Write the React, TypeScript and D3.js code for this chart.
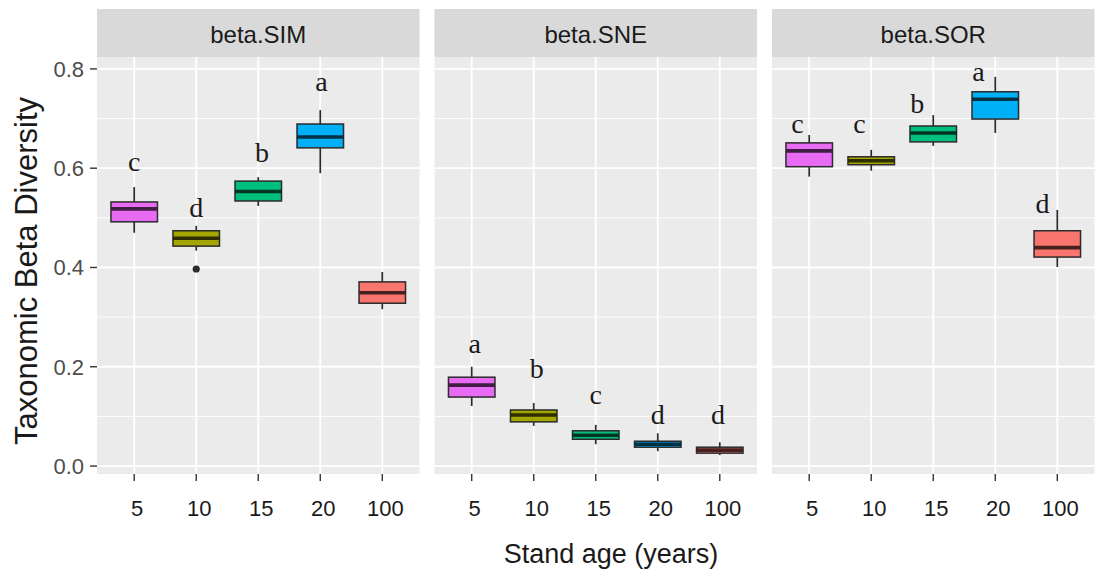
import React from "react";
import * as d3 from "d3";

// Stand ages shown on every facet
const ages = ["5", "10", "15", "20", "100"];
const ageColors = ["#E76BF3", "#A3A500", "#00BF7D", "#00B0F6", "#F8766D"];

// Facet names
const facets = ["beta.SIM", "beta.SNE", "beta.SOR"];

// Box statistics per facet (lower whisker, Q1, median, Q3, upper whisker)
const simLow = [0.47, 0.434, 0.524, 0.59, 0.316];
const simQ1 = [0.492, 0.443, 0.534, 0.641, 0.328];
const simMed = [0.518, 0.459, 0.553, 0.663, 0.349];
const simQ3 = [0.532, 0.474, 0.574, 0.689, 0.371];
const simHigh = [0.562, 0.484, 0.582, 0.717, 0.391];

const sneLow = [0.121, 0.081, 0.044, 0.03, 0.022];
const sneQ1 = [0.139, 0.089, 0.054, 0.038, 0.026];
const sneMed = [0.163, 0.103, 0.062, 0.044, 0.032];
const sneQ3 = [0.179, 0.113, 0.071, 0.05, 0.038];
const sneHigh = [0.2, 0.127, 0.083, 0.066, 0.048];

const sorLow = [0.583, 0.595, 0.645, 0.671, 0.401];
const sorQ1 = [0.603, 0.607, 0.653, 0.699, 0.421];
const sorMed = [0.635, 0.615, 0.671, 0.739, 0.44];
const sorQ3 = [0.651, 0.623, 0.685, 0.754, 0.474];
const sorHigh = [0.667, 0.637, 0.707, 0.784, 0.516];

// Outlying observations
const simOutliers = [{ age: "10", value: 0.397 }];
const sneOutliers: { age: string; value: number }[] = [];
const sorOutliers: { age: string; value: number }[] = [];

// Significance letters, their height (data units) and sideways nudge (category units)
const simLetters = ["c", "d", "b", "a", ""];
const simLetterY = [0.594, 0.502, 0.613, 0.756, 0];
const simLetterNudge = [0, 0, 0.06, 0.02, 0];

const sneLetters = ["a", "b", "c", "d", "d"];
const sneLetterY = [0.228, 0.177, 0.125, 0.085, 0.085];
const sneLetterNudge = [0.05, 0.05, 0, 0, -0.03];

const sorLetters = ["c", "c", "b", "a", "d"];
const sorLetterY = [0.671, 0.671, 0.711, 0.776, 0.51];
const sorLetterNudge = [-0.19, -0.19, -0.26, -0.27, -0.24];

const yTicks = [0, 0.2, 0.4, 0.6, 0.8];
const yMinor = [0.1, 0.3, 0.5, 0.7];

const panelStats = [
  { low: simLow, q1: simQ1, med: simMed, q3: simQ3, high: simHigh, out: simOutliers, letters: simLetters, ly: simLetterY, ln: simLetterNudge },
  { low: sneLow, q1: sneQ1, med: sneMed, q3: sneQ3, high: sneHigh, out: sneOutliers, letters: sneLetters, ly: sneLetterY, ln: sneLetterNudge },
  { low: sorLow, q1: sorQ1, med: sorMed, q3: sorQ3, high: sorHigh, out: sorOutliers, letters: sorLetters, ly: sorLetterY, ln: sorLetterNudge },
];

const W = 1102;
const H = 579;
const panelLeft = 97;
const panelWidth = 322.5;
const panelGap = 15;
const stripTop = 9;
const stripBottom = 57;
const panelBottom = 474;

const sans = "'Liberation Sans', Arial, sans-serif";
const serif = "'Liberation Serif', 'Times New Roman', serif";

export default function App() {
  const y = d3.scaleLinear().domain([-0.016, 0.824]).range([panelBottom, stripBottom]);
  const color = d3.scaleOrdinal<string, string>().domain(ages).range(ageColors);

  return (
    <svg
      width={W}
      height={H}
      style={{ position: "absolute", left: 0, top: 0, background: "#fff" }}
    >
      <rect x={0} y={0} width={W} height={H} fill="#fff" />
      {facets.map((facet, pi) => {
        const x0 = panelLeft + pi * (panelWidth + panelGap);
        const x1 = x0 + panelWidth;
        const x = d3.scalePoint<string>().domain(ages).range([x0, x1]).padding(0.6);
        const step = x.step();
        const bw = step * 0.75;
        const s = panelStats[pi];
        return (
          <g key={facet}>
            {/* panel background and grid */}
            <rect x={x0} y={stripBottom} width={panelWidth} height={panelBottom - stripBottom} fill="#EBEBEB" />
            {yMinor.map((t) => (
              <line key={"mn" + t} x1={x0} x2={x1} y1={y(t)} y2={y(t)} stroke="#fff" strokeWidth={0.9} />
            ))}
            {yTicks.map((t) => (
              <line key={"mj" + t} x1={x0} x2={x1} y1={y(t)} y2={y(t)} stroke="#fff" strokeWidth={1.8} />
            ))}
            {ages.map((a) => (
              <line key={"vg" + a} x1={x(a)!} x2={x(a)!} y1={stripBottom} y2={panelBottom} stroke="#fff" strokeWidth={1.8} />
            ))}
            {/* strip */}
            <rect x={x0} y={stripTop} width={panelWidth} height={stripBottom - stripTop} fill="#D9D9D9" />
            <text
              x={(x0 + x1) / 2}
              y={43}
              textAnchor="middle"
              fontFamily={sans}
              fontSize={24}
              fill="#1A1A1A"
            >
              {facet}
            </text>
            {/* boxplots */}
            {ages.map((a, i) => {
              const cx = x(a)!;
              const fill = color(a);
              const dark = d3.interpolateRgb(fill, "#000")(0.72);
              return (
                <g key={"b" + a}>
                  <line x1={cx} x2={cx} y1={y(s.high[i])} y2={y(s.q3[i])} stroke="#2b2b2b" strokeWidth={1.7} />
                  <line x1={cx} x2={cx} y1={y(s.q1[i])} y2={y(s.low[i])} stroke="#2b2b2b" strokeWidth={1.7} />
                  <rect
                    x={cx - bw / 2}
                    y={y(s.q3[i])}
                    width={bw}
                    height={y(s.q1[i]) - y(s.q3[i])}
                    fill={fill}
                    stroke="#2b2b2b"
                    strokeWidth={1.5}
                  />
                  <line x1={cx - bw / 2} x2={cx + bw / 2} y1={y(s.med[i])} y2={y(s.med[i])} stroke={dark} strokeWidth={3.6} />
                </g>
              );
            })}
            {s.out.map((o, k) => (
              <circle key={"o" + k} cx={x(o.age)!} cy={y(o.value)} r={3.6} fill="#2b2b2b" />
            ))}
            {/* significance letters */}
            {ages.map((a, i) =>
              s.letters[i] ? (
                <text
                  key={"l" + a}
                  x={x(a)! + s.ln[i] * step}
                  y={y(s.ly[i])}
                  textAnchor="middle"
                  fontFamily={serif}
                  fontSize={28}
                  fill="#1a1a1a"
                >
                  {s.letters[i]}
                </text>
              ) : null
            )}
            {/* x axis ticks and labels */}
            {ages.map((a) => (
              <g key={"xt" + a}>
                <line x1={x(a)!} x2={x(a)!} y1={panelBottom} y2={panelBottom + 7} stroke="#333" strokeWidth={1.4} />
                <text
                  x={x(a)! + 3}
                  y={516}
                  textAnchor="middle"
                  fontFamily={sans}
                  fontSize={22}
                  fill="#1a1a1a"
                >
                  {a}
                </text>
              </g>
            ))}
          </g>
        );
      })}
      {/* y axis */}
      {yTicks.map((t) => (
        <g key={"yt" + t}>
          <line x1={90} x2={panelLeft} y1={y(t)} y2={y(t)} stroke="#333" strokeWidth={1.4} />
          <text
            x={84}
            y={y(t) + 8}
            textAnchor="end"
            fontFamily={sans}
            fontSize={22}
            fill="#4D4D4D"
          >
            {t.toFixed(1)}
          </text>
        </g>
      ))}
      <text
        transform="translate(37,271) rotate(-90)"
        textAnchor="middle"
        fontFamily={sans}
        fontSize={31}
        fill="#1a1a1a"
      >
        Taxonomic Beta Diversity
      </text>
      <text x={611} y={563} textAnchor="middle" fontFamily={sans} fontSize={27} fill="#1a1a1a">
        Stand age (years)
      </text>
    </svg>
  );
}
